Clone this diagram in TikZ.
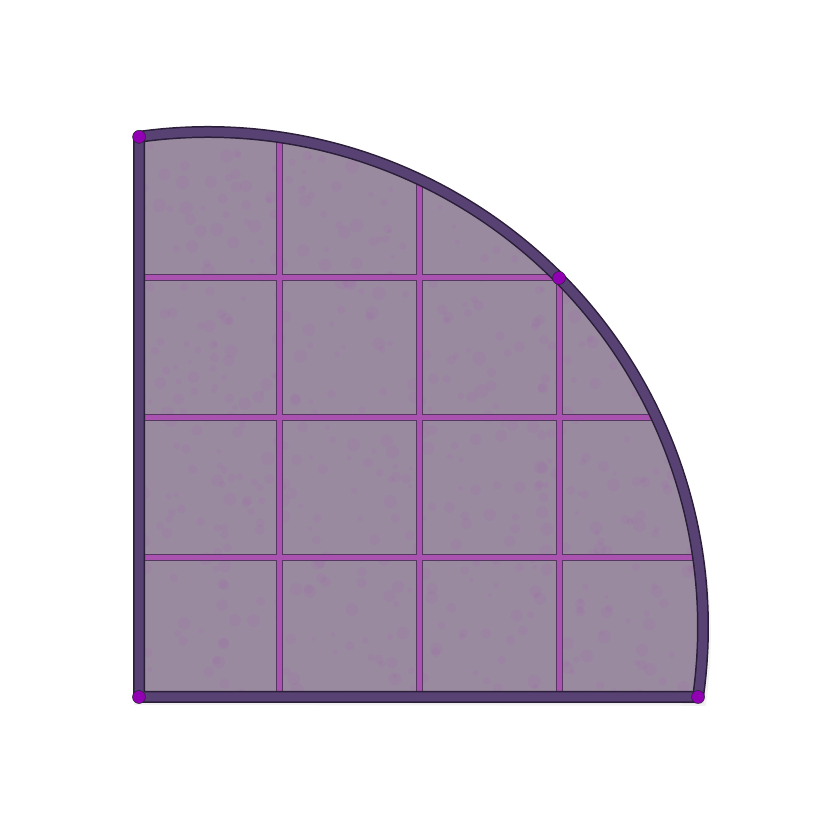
\documentclass[tikz,border=0pt]{standalone}
\usetikzlibrary{calc}
\definecolor{tile}{RGB}{153,138,160}
\definecolor{gridline}{RGB}{170,82,175}
\definecolor{griddark}{RGB}{85,55,98}
\definecolor{framecol}{RGB}{88,66,116}
\definecolor{framedark}{RGB}{42,30,56}
\definecolor{dotcol}{RGB}{145,0,178}
\tikzset{
  gridbase/.style={griddark, line width=7pt},
  gridtop/.style={gridline, line width=5pt},
  framebase/.style={framedark, line width=12pt, line join=round},
  frametop/.style={framecol, line width=9pt, line join=round},
  dotstyle/.style={circle, fill=dotcol, draw=framedark, line width=0.5pt, inner sep=0pt, minimum size=13pt},
}
\begin{document}
\begin{tikzpicture}[x=1pt,y=1pt]
\useasboundingbox (0,0) rectangle (840,840);
\fill[white] (0,0) rectangle (840,840);
% key points
\coordinate (O) at (208,213);   % arc centre
\coordinate (TL) at ($(O)+(98:495)$);
\coordinate (BR) at ($(O)+(-8.13:495)$);
\coordinate (BL) at (139,143);
\coordinate (MB) at (559,562);
% soft shadow
\foreach \s/\o in {6/0.05,4/0.07,2/0.09}{
  \fill[black, opacity=\o] ($(TL)+(1,-2)$) arc[start angle=98, end angle=-8.13, radius=495+\s] -- ($(BL)+(1-\s,-2-\s)$) -- cycle;
}
% tile field
\fill[tile] (TL) arc[start angle=98, end angle=-8.13, radius=495] -- (BL) -- cycle;
\begin{scope}
  \clip (TL) arc[start angle=98, end angle=-8.13, radius=495] -- (BL) -- cycle;
  % fine mottling
  \pgfmathsetseed{7}
  \foreach \i in {1,...,600}{
    \pgfmathsetmacro{\px}{139+560*rnd}
    \pgfmathsetmacro{\py}{143+560*rnd}
    \pgfmathsetmacro{\r}{2+5*rnd}
    \fill[gridline, opacity=0.09] (\px,\py) circle[radius=\r];
  }
  \foreach \x in {279,419,559}{
    \draw[gridbase] (\x,100) -- (\x,840);
  }
  \foreach \y in {562,422,282}{
    \draw[gridbase] (100,\y) -- (840,\y);
  }
  \foreach \x in {279,419,559}{
    \draw[gridtop] (\x,100) -- (\x,840);
  }
  \foreach \y in {562,422,282}{
    \draw[gridtop] (100,\y) -- (840,\y);
  }
\end{scope}
% frame
\draw[framebase] (TL) arc[start angle=98, end angle=-8.13, radius=495] -- (BL) -- cycle;
\draw[frametop] (TL) arc[start angle=98, end angle=-8.13, radius=495] -- (BL) -- cycle;
% dots
\node[dotstyle] (dTL) at (TL) {};
\node[dotstyle] (dBL) at (BL) {};
\node[dotstyle] (dBR) at (BR) {};
\node[dotstyle] (dMB) at (MB) {};
\end{tikzpicture}
\end{document}
